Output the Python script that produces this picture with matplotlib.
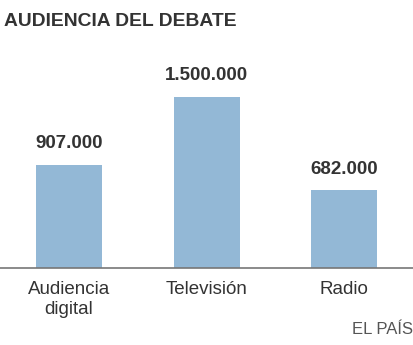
import matplotlib
matplotlib.use("Agg")
from matplotlib import pyplot as plt

categories = ["Audiencia\ndigital", "Televisión", "Radio"]
audience = [907000, 1500000, 682000]
value_labels = ["907.000", "1.500.000", "682.000"]

plt.rcParams['font.family'] = ['Liberation Sans', 'DejaVu Sans']

fig = plt.figure(figsize=(4.14, 3.45), dpi=100)
ax = fig.add_axes([0, 77 / 345, 1, 228 / 345])

x = range(len(categories))
ax.bar(x, audience, width=0.48, color='#93b8d6')
for i, (v, lab) in enumerate(zip(audience, value_labels)):
    ax.annotate(lab, (i, v), xytext=(0, 9), textcoords='offset points',
                ha='center', va='bottom', fontsize=13.5, fontweight='bold', color='#333333')

ax.set_xlim(-0.502, 2.509)
ax.set_ylim(0, 2000000)
ax.set_xticks(list(x))
ax.set_xticklabels(categories, fontsize=13.5, color='#333333', linespacing=1.3)
ax.tick_params(axis='x', length=0, pad=9)
ax.set_yticks([])
for s in ['top', 'right', 'left']:
    ax.spines[s].set_visible(False)
ax.spines['bottom'].set_color('#777777')
ax.spines['bottom'].set_linewidth(1.2)

fig.text(4 / 414, 1 - 22 / 345, "AUDIENCIA DEL DEBATE", fontsize=13.9, fontweight='bold',
         color='#333333', ha='left', va='center')
fig.text(413 / 414, 1 - 329 / 345, "EL PAÍS", fontsize=12, color='#555555',
         ha='right', va='center')

fig.savefig("out.png", dpi=100)
